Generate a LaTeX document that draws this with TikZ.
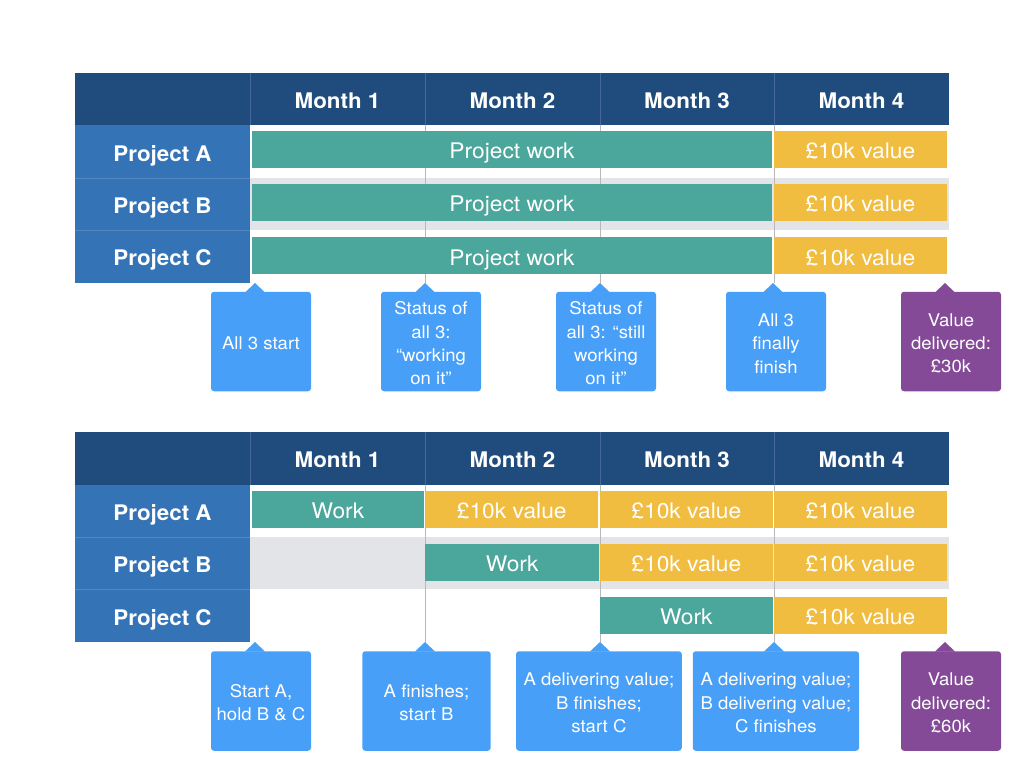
\documentclass[tikz,border=0pt]{standalone}
\usepackage{fontspec}
\setmainfont{TeX Gyre Heros}
\newfontfamily\hdrfont[FakeStretch=1.04]{TeX Gyre Heros}
\newfontfamily\barfont[FakeStretch=1.06]{TeX Gyre Heros}
\newfontfamily\calfont[FakeStretch=1.06]{TeX Gyre Heros}
\definecolor{hdr}{HTML}{1F4C7C}
\definecolor{hdrline}{HTML}{46699A}
\definecolor{lbl}{HTML}{3373B6}
\definecolor{lblline}{HTML}{5587C2}
\definecolor{tealbar}{HTML}{4BA69B}
\definecolor{yelbar}{HTML}{F0BD40}
\definecolor{cblue}{HTML}{489FF8}
\definecolor{cpurple}{HTML}{844A97}
\definecolor{band}{HTML}{E3E4E8}
\definecolor{gridc}{HTML}{B8B8B8}
\begin{document}
\begin{tikzpicture}[x=1pt,y=-1pt,
  hdrtxt/.style={text=white,inner sep=0pt,font=\hdrfont\fontsize{21.5}{25}\selectfont\bfseries,text height=15.5pt,text depth=0pt},
  bar/.style={inner sep=0pt,text=white,font=\barfont\fontsize{21.5}{25}\selectfont,text height=18.5pt,text depth=0pt,minimum height=37pt},
  teal bar/.style={bar,fill=tealbar},
  yel bar/.style={bar,fill=yelbar},
  callout/.style={fill=cblue,rounded corners=3pt,inner sep=0pt,minimum height=99.5pt},
  pcallout/.style={callout,fill=cpurple},
  calltext/.style={text=white,align=center,inner sep=0pt,font=\calfont\fontsize{17.5}{23.3}\selectfont,yshift=-2pt},
  gridline/.style={draw=gridc,line width=0.8pt},
  hdrsep/.style={draw=hdrline,line width=0.8pt},
  lblsep/.style={draw=lblline,line width=0.8pt}
]
\useasboundingbox[fill=white] (0,0) rectangle (1024,768);

% ================= TOP TABLE =================
\fill[band] (250,178) rectangle (949,230);
\fill[hdr] (75,73) rectangle (949,125);
\fill[lbl] (75,125) rectangle (250,282.5);
\foreach \x in {250,425,600,774} \draw[hdrsep] (\x,73) -- (\x,125);
\draw[lblsep] (75,178) -- (250,178);
\draw[lblsep] (75,230) -- (250,230);

\coordinate (ta) at (255,283);
\coordinate (tb) at (425,283);
\coordinate (tc) at (600,283);
\coordinate (td) at (773,283);
\coordinate (te) at (945,283);
\draw[gridline] (425,125) -- (tb);
\draw[gridline] (600,125) -- (tc);
\draw[gridline] (774,125) -- (774,283);

\node[hdrtxt] (m1) at (337.5,100.5) {Month 1};
\node[hdrtxt] (m2) at (512.5,100.5) {Month 2};
\node[hdrtxt] (m3) at (687,100.5) {Month 3};
\node[hdrtxt] (m4) at (861.5,100.5) {Month 4};
\node[hdrtxt] (pa) at (162.5,153.5) {Project A};
\node[hdrtxt] (pb) at (162.5,206) {Project B};
\node[hdrtxt] (pc) at (162.5,258) {Project C};

\node[teal bar,minimum width=520.6pt] (wa) at (512,149.7) {Project work};
\node[teal bar,minimum width=520.6pt] (wb) at (512,202.7) {Project work};
\node[teal bar,minimum width=520.6pt] (wc) at (512,255.9) {Project work};
\node[yel bar,minimum width=172.7pt] (va) at (860.4,149.7) {£10k value};
\node[yel bar,minimum width=172.7pt] (vb) at (860.4,202.7) {£10k value};
\node[yel bar,minimum width=172.7pt] (vc) at (860.4,255.9) {£10k value};

\node[callout,minimum width=100pt] (c1) at (261,341.5) {};
\node[callout,minimum width=100pt] (c2) at (431,341.5) {};
\node[callout,minimum width=100pt] (c3) at (606,341.5) {};
\node[callout,minimum width=100pt] (c4) at (776,341.5) {};
\node[pcallout,minimum width=100pt] (c5) at (951,341.5) {};
\foreach \t in {ta,tb,tc,td} \fill[cblue] (\t) ++(-10,9.5) -- (\t) -- ++(10,9.5) -- cycle;
\fill[cpurple] (te) ++(-10,9.5) -- (te) -- ++(10,9.5) -- cycle;
\node[calltext] (c1t) at (c1) {All 3 start};
\node[calltext] (c2t) at (c2) {Status of\\all 3:\\“working\\on it”};
\node[calltext] (c3t) at (c3) {Status of\\all 3: “still\\working\\on it”};
\node[calltext] (c4t) at (c4) {All 3\\finally\\finish};
\node[calltext] (c5t) at (c5) {Value\\delivered:\\£30k};

% ================= BOTTOM TABLE =================
\fill[band] (250,537) rectangle (949,589);
\fill[hdr] (75,432) rectangle (949,484.5);
\fill[lbl] (75,484.5) rectangle (250,642);
\foreach \x in {250,425,600,774} \draw[hdrsep] (\x,432) -- (\x,484.5);
\draw[lblsep] (75,537) -- (250,537);
\draw[lblsep] (75,589) -- (250,589);

\coordinate (sa) at (255,642);
\coordinate (sb) at (425,642);
\coordinate (sc) at (600,642);
\coordinate (sd) at (774,642);
\coordinate (se) at (945,642);
\draw[gridline] (425,484.5) -- (sb);
\draw[gridline] (600,484.5) -- (sc);
\draw[gridline] (774,484.5) -- (sd);

\node[hdrtxt] (n1) at (337.5,459.5) {Month 1};
\node[hdrtxt] (n2) at (512.5,459.5) {Month 2};
\node[hdrtxt] (n3) at (687,459.5) {Month 3};
\node[hdrtxt] (n4) at (861.5,459.5) {Month 4};
\node[hdrtxt] (qa) at (162.5,513) {Project A};
\node[hdrtxt] (qb) at (162.5,565) {Project B};
\node[hdrtxt] (qc) at (162.5,617.5) {Project C};

\node[teal bar,minimum width=172.6pt] (xa1) at (338,509.3) {Work};
\node[yel bar,minimum width=172.6pt] (xa2) at (511.7,509.3) {£10k value};
\node[yel bar,minimum width=172.6pt] (xa3) at (686.3,509.3) {£10k value};
\node[yel bar,minimum width=172.6pt] (xa4) at (860.4,509.3) {£10k value};
\node[teal bar,minimum width=173.6pt] (xb2) at (512.2,562.3) {Work};
\node[yel bar,minimum width=172.6pt] (xb3) at (686.3,562.3) {£10k value};
\node[yel bar,minimum width=172.6pt] (xb4) at (860.4,562.3) {£10k value};
\node[teal bar,minimum width=172.6pt] (xc3) at (686.3,615.5) {Work};
\node[yel bar,minimum width=172.6pt] (xc4) at (860.4,615.5) {£10k value};

\node[callout,minimum width=100pt] (d1) at (261,701) {};
\node[callout,minimum width=128.4pt] (d2) at (426.5,701) {};
\node[callout,minimum width=165.7pt] (d3) at (598.9,701) {};
\node[callout,minimum width=166.3pt] (d4) at (775.9,701) {};
\node[pcallout,minimum width=100pt] (d5) at (951,701) {};
\foreach \t in {sa,sb,sc,sd} \fill[cblue] (\t) ++(-10,9.5) -- (\t) -- ++(10,9.5) -- cycle;
\fill[cpurple] (se) ++(-10,9.5) -- (se) -- ++(10,9.5) -- cycle;
\node[calltext] (d1t) at (d1) {Start A,\\hold B \& C};
\node[calltext] (d2t) at (d2) {A finishes;\\start B};
\node[calltext] (d3t) at (d3) {A delivering value;\\B finishes;\\start C};
\node[calltext] (d4t) at (d4) {A delivering value;\\B delivering value;\\C finishes};
\node[calltext] (d5t) at (d5) {Value\\delivered:\\£60k};
\end{tikzpicture}
\end{document}
